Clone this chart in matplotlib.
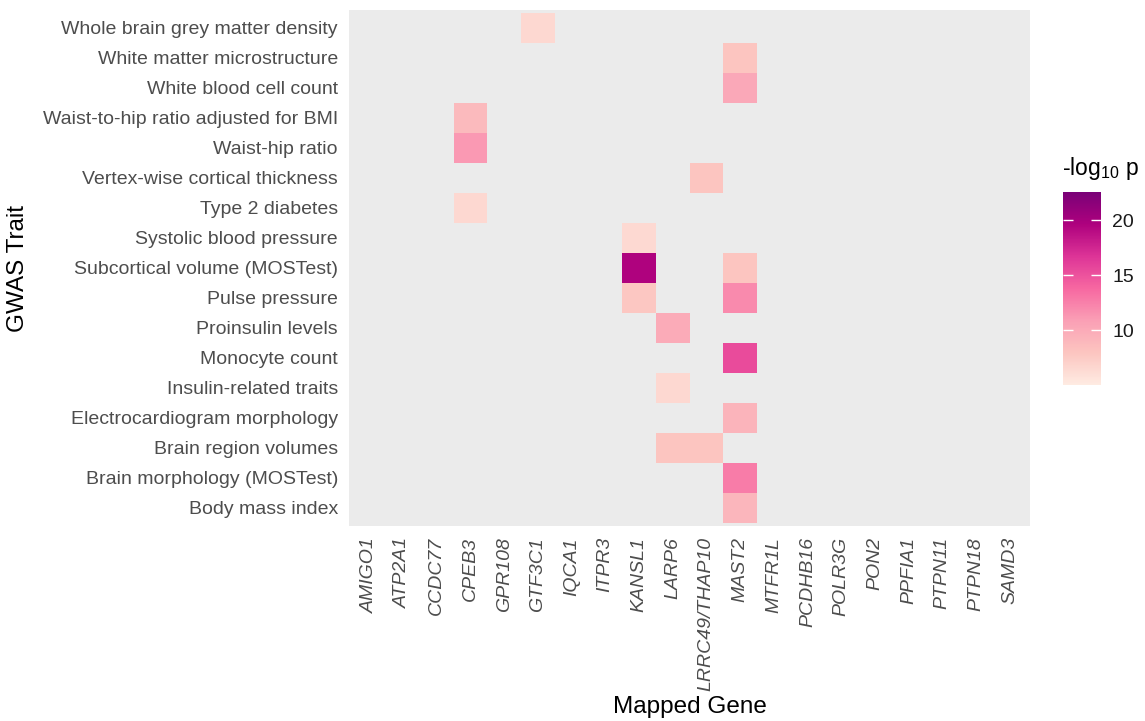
import numpy as np
import matplotlib
matplotlib.use("Agg")
import matplotlib.pyplot as plt
from matplotlib.colors import LinearSegmentedColormap

plt.rcParams['font.family'] = ['Liberation Sans', 'DejaVu Sans']
plt.rcParams['mathtext.fontset'] = 'custom'
plt.rcParams['mathtext.rm'] = 'Liberation Sans'
plt.rcParams['mathtext.it'] = 'Liberation Sans:italic'

# traits listed top to bottom
traits = [
    'Whole brain grey matter density', 'White matter microstructure',
    'White blood cell count', 'Waist-to-hip ratio adjusted for BMI',
    'Waist-hip ratio', 'Vertex-wise cortical thickness', 'Type 2 diabetes',
    'Systolic blood pressure', 'Subcortical volume (MOSTest)', 'Pulse pressure',
    'Proinsulin levels', 'Monocyte count', 'Insulin-related traits',
    'Electrocardiogram morphology', 'Brain region volumes',
    'Brain morphology (MOSTest)', 'Body mass index',
]
genes = ['AMIGO1', 'ATP2A1', 'CCDC77', 'CPEB3', 'GPR108', 'GTF3C1', 'IQCA1',
         'ITPR3', 'KANSL1', 'LARP6', 'LRRC49/THAP10', 'MAST2', 'MTFR1L',
         'PCDHB16', 'POLR3G', 'PON2', 'PPFIA1', 'PTPN11', 'PTPN18', 'SAMD3']

# associations: trait, gene, -log10 p
hit_trait = ['Whole brain grey matter density', 'White matter microstructure',
             'White blood cell count', 'Waist-to-hip ratio adjusted for BMI',
             'Waist-hip ratio', 'Vertex-wise cortical thickness', 'Type 2 diabetes',
             'Systolic blood pressure', 'Subcortical volume (MOSTest)',
             'Subcortical volume (MOSTest)', 'Pulse pressure', 'Pulse pressure',
             'Proinsulin levels', 'Monocyte count', 'Insulin-related traits',
             'Electrocardiogram morphology', 'Brain region volumes',
             'Brain region volumes', 'Brain morphology (MOSTest)', 'Body mass index']
hit_gene = ['GTF3C1', 'MAST2', 'MAST2', 'CPEB3', 'CPEB3', 'LRRC49/THAP10', 'CPEB3',
            'KANSL1', 'KANSL1', 'MAST2', 'KANSL1', 'MAST2', 'LARP6', 'MAST2',
            'LARP6', 'MAST2', 'LARP6', 'LRRC49/THAP10', 'MAST2', 'MAST2']
hit_logp = [6.5, 7.9, 10.2, 8.8, 11.2, 7.9, 6.5, 6.4, 19.6, 7.9, 7.8, 12.0,
            10.0, 15.4, 6.5, 9.3, 7.9, 7.9, 12.7, 9.1]

logp_min, logp_max = 5.0, 22.57
rdpu7 = ['#FEEBE2', '#FCC5C0', '#FA9FB5', '#F768A1', '#DD3497', '#AE017E', '#7A0177']
cmap = LinearSegmentedColormap.from_list('rdpu7', rdpu7)

grid = np.full((len(traits), len(genes)), np.nan)
for t, g, v in zip(hit_trait, hit_gene, hit_logp):
    grid[traits.index(t), genes.index(g)] = v
grid = np.ma.masked_invalid(grid)

W, H = 1145, 721
fig = plt.figure(figsize=(W / 100, H / 100), dpi=100)
px_l, px_r, px_t, px_b = 349, 1030, 10, 526
ax = fig.add_axes([px_l / W, 1 - px_b / H, (px_r - px_l) / W, (px_b - px_t) / H])
ax.set_facecolor('#EBEBEB')

mesh = ax.pcolormesh(np.arange(len(genes) + 1) - 0.5,
                     np.arange(len(traits) + 1) - 0.5,
                     grid, cmap=cmap, vmin=logp_min, vmax=logp_max)
ax.set_xlim(-0.6, len(genes) - 0.4)
ax.set_ylim(len(traits) - 0.4, -0.6)
ax.set_yticks(range(len(traits)))
ax.set_yticklabels(traits, fontsize=14, color='#4D4D4D')
ax.set_xticks(range(len(genes)))
ax.set_xticklabels(genes, rotation=90, fontsize=14, color='#4D4D4D',
                   fontstyle='italic', ha='center', va='top')
ax.tick_params(axis='both', length=0, pad=8)
for s in ax.spines.values():
    s.set_visible(False)
ax.set_ylabel('GWAS Trait', fontsize=17.5, labelpad=10)
fig.text((px_l + px_r) / 2 / W, 1 - 707 / H, 'Mapped Gene', fontsize=17.5,
         ha='center', va='center')

cax = fig.add_axes([1063 / W, 1 - 385 / H, 38 / W, 193 / H])
cb = fig.colorbar(mesh, cax=cax, ticks=[10, 15, 20])
cb.outline.set_visible(False)
cax.tick_params(direction='in', color='white', length=7.5, width=1,
                left=True, right=True, labelsize=14, pad=8)
for lab in cax.get_yticklabels():
    lab.set_color('#1A1A1A')
fig.text(1062 / W, 1 - 175 / H, '-log$_{10}$ p', fontsize=16.5, ha='left', va='baseline')

fig.savefig('out.png', dpi=100)
